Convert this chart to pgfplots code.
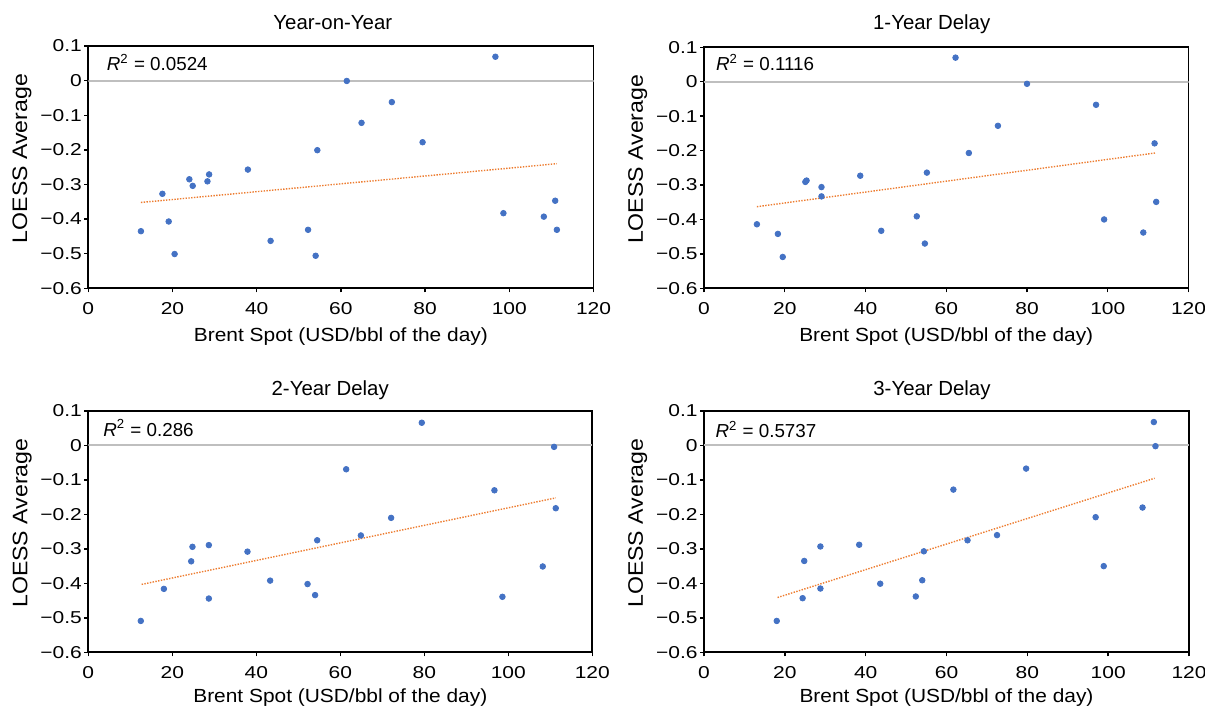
\documentclass[border=0pt]{standalone}
\usepackage{fontspec}
\setmainfont{Liberation Sans}
\newfontfamily\tickfont{Liberation Sans}[FakeStretch=1.22]
\newfontfamily\xlabfont{Liberation Sans}[FakeStretch=1.1]
\newfontfamily\ylabfont{Liberation Sans}[FakeStretch=1.1]
\usepackage{pgfplots}
\usepackage{pgfplotstable}
\pgfplotsset{compat=1.18}

\definecolor{dotblue}{HTML}{4472C4}
\definecolor{trendorange}{HTML}{ED7D31}
\definecolor{zerogray}{HTML}{BFBFBF}

% LOESS averages against the Brent spot price, one table per lag
\pgfplotstableread{
x y
12.5 -0.435
17.6 -0.327
19.1 -0.407
20.5 -0.501
24.0 -0.285
24.8 -0.304
28.3 -0.291
28.7 -0.271
37.9 -0.257
43.3 -0.463
52.2 -0.431
54.0 -0.506
54.4 -0.201
61.4 -0.001
64.9 -0.122
72.1 -0.062
79.4 -0.178
96.7 0.069
98.6 -0.383
108.2 -0.393
110.9 -0.347
111.3 -0.431
}\yoy
\pgfplotstableread{
x y
13.1 -0.414
18.3 -0.442
19.5 -0.509
25.1 -0.291
25.4 -0.287
29.1 -0.306
29.1 -0.333
38.7 -0.273
43.9 -0.433
52.7 -0.391
54.7 -0.470
55.2 -0.264
62.3 0.070
65.6 -0.207
72.8 -0.128
80.0 -0.006
97.1 -0.067
99.1 -0.400
108.8 -0.438
111.6 -0.179
112.0 -0.349
}\delayone
\pgfplotstableread{
x y
12.5 -0.509
18.0 -0.416
24.5 -0.336
24.8 -0.294
28.7 -0.289
28.7 -0.444
37.9 -0.308
43.3 -0.392
52.2 -0.402
54.0 -0.434
54.5 -0.275
61.4 -0.069
64.9 -0.261
72.1 -0.210
79.4 0.066
96.7 -0.130
98.6 -0.439
108.2 -0.351
110.9 -0.004
111.3 -0.182
}\delaytwo
\pgfplotstableread{
x y
18.0 -0.509
24.4 -0.443
24.8 -0.335
28.8 -0.293
28.8 -0.415
38.4 -0.288
43.6 -0.401
52.4 -0.438
54.0 -0.391
54.4 -0.307
61.7 -0.128
65.2 -0.275
72.5 -0.260
79.7 -0.067
96.9 -0.208
98.9 -0.350
108.5 -0.180
111.3 0.068
111.7 -0.002
}\delaythree

\pgfplotsset{
  panel/.style={
    scale only axis,
    anchor=south west,
    xmin=0, xmax=120, ymin=-0.6, ymax=0.1,
    xtick={0,20,...,120},
    ytick={-0.6,-0.5,-0.4,-0.3,-0.2,-0.1,0,0.1},
    yticklabels={−0.6,−0.5,−0.4,−0.3,−0.2,−0.1,0,0.1},
    xtick pos=lower, ytick pos=left,
    tick align=outside, major tick length=2pt,
    axis line style={line width=0.9pt},
    every tick/.style={black, line width=0.7pt},
    /pgf/number format/assume math mode=true,
    tick label style={font=\tickfont\fontsize{8.6}{10}\selectfont},
    yticklabel style={inner sep=1pt},
    xticklabel style={yshift=-1.5pt},
    xlabel style={font=\xlabfont\fontsize{9.5}{11}\selectfont},
    ylabel style={font=\ylabfont\fontsize{10.5}{12}\selectfont},
    every axis title/.style={anchor=base, font=\fontsize{10.2}{12}\selectfont},
    xlabel={Brent Spot (USD/bbl of the day)},
    ylabel={LOESS Average},
  },
  dots/.style={only marks, mark=*, mark size=1.4pt,
    mark options={draw=dotblue, fill=dotblue}},
  trend/.style={trendorange, line width=0.7pt,
    dash pattern=on 0.7pt off 0.7pt, no marks},
  zero/.style={zerogray, line width=1pt, no marks},
}
\tikzset{rsq/.style={anchor=base west, inner sep=0pt, font=\fontsize{9.4}{11}\selectfont}}

\begin{document}
\begin{tikzpicture}
\path[use as bounding box] (0,0) rectangle (602.5pt,354.5pt);

% Year-on-Year
\begin{axis}[panel, at={(44.15pt,210.35pt)},
  width=252.6pt, height=121.15pt,
  title={Year-on-Year},
  title style={at={(axis description cs:0.484,1.07)}},
  xlabel style={at={(axis description cs:0.5,-0.22)}, anchor=base},
  ylabel style={at={(axis description cs:-0.121,0.535)}, anchor=base}]
  \addplot[zero] coordinates {(0,0) (120,0)};
  \addplot[trend] coordinates {(12.5,-0.352) (111.3,-0.240)};
  \addplot[dots] table {\yoy};
  \node[rsq] at (axis description cs:0.036,0.898) {\textit{R}\textsuperscript{2} = 0.0524};
\end{axis}

% 1-Year Delay
\begin{axis}[panel, at={(352pt,210.35pt)},
  width=242.25pt, height=120.5pt,
  title={1-Year Delay},
  title style={at={(axis description cs:0.47,1.072)}},
  xlabel style={at={(axis description cs:0.5,-0.22)}, anchor=base},
  ylabel style={at={(axis description cs:-0.126,0.535)}, anchor=base}]
  \addplot[zero] coordinates {(0,0) (120,0)};
  \addplot[trend] coordinates {(13.1,-0.363) (111.7,-0.207)};
  \addplot[dots] table {\delayone};
  \node[rsq] at (axis description cs:0.024,0.903) {\textit{R}\textsuperscript{2} = 0.1116};
\end{axis}

% 2-Year Delay
\begin{axis}[panel, at={(44.15pt,28.35pt)},
  width=252pt, height=120.65pt,
  title={2-Year Delay},
  title style={at={(axis description cs:0.48,1.065)}},
  xlabel style={at={(axis description cs:0.5,-0.21)}, anchor=base},
  ylabel style={at={(axis description cs:-0.121,0.535)}, anchor=base}]
  \addplot[zero] coordinates {(0,0) (120,0)};
  \addplot[trend] coordinates {(12.7,-0.403) (111.3,-0.152)};
  \addplot[dots] table {\delaytwo};
  \node[rsq] at (axis description cs:0.029,0.896) {\textit{R}\textsuperscript{2} = 0.286};
\end{axis}

% 3-Year Delay
\begin{axis}[panel, at={(352pt,28.35pt)},
  width=242.5pt, height=120.65pt,
  title={3-Year Delay},
  title style={at={(axis description cs:0.47,1.065)}},
  xlabel style={at={(axis description cs:0.5,-0.21)}, anchor=base},
  ylabel style={at={(axis description cs:-0.126,0.535)}, anchor=base}]
  \addplot[zero] coordinates {(0,0) (120,0)};
  \addplot[trend] coordinates {(18.2,-0.441) (111.5,-0.095)};
  \addplot[dots] table {\delaythree};
  \node[rsq] at (axis description cs:0.023,0.889) {\textit{R}\textsuperscript{2} = 0.5737};
\end{axis}
\end{tikzpicture}
\end{document}
